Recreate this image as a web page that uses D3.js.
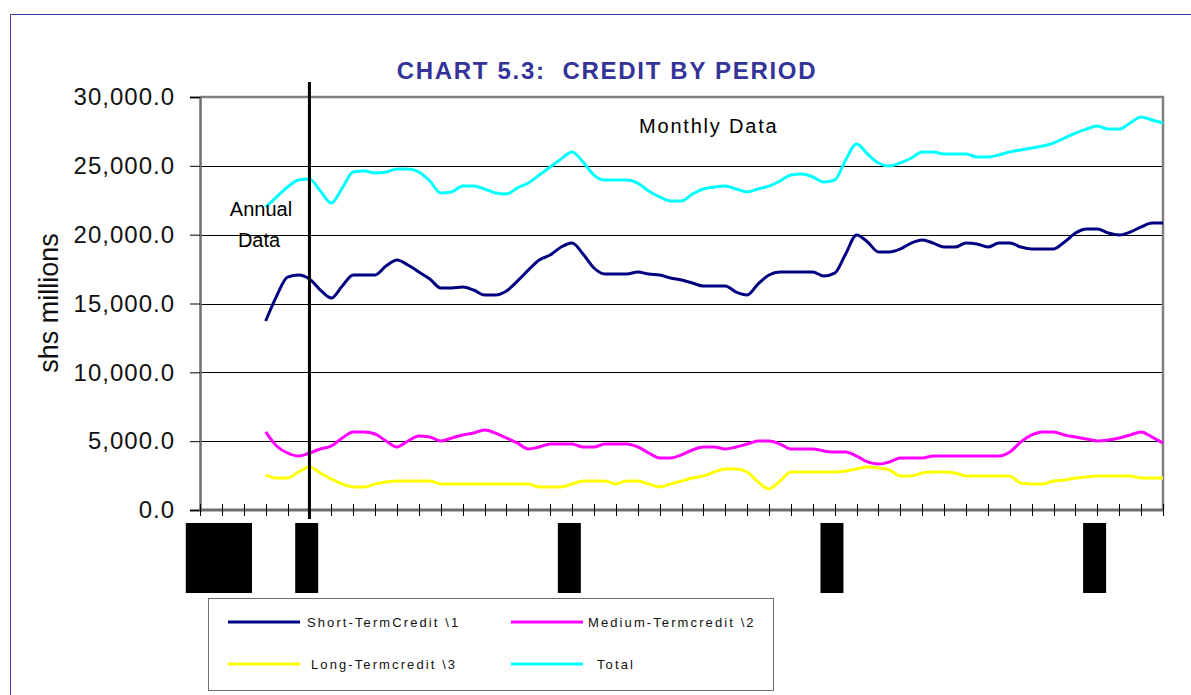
<!DOCTYPE html>
<html>
<head>
<meta charset="utf-8">
<script src="https://cdn.jsdelivr.net/npm/d3@7"></script>
<style>
  body { margin: 0; background: #fff; }
  text { font-family: "Liberation Sans", Arial, sans-serif; }
</style>
</head>
<body>
<div id="chart"></div>
<script>
// data (one value per period, starting at period index FIRST_PERIOD)
const FIRST_PERIOD = 6;
const LAST_PERIOD = 88;
const shortTerm = [
    13730, 15540, 16920, 17070, 16780, 15980, 15400, 16270, 17070, 17070,
    17070, 17720, 18160, 17800, 17290, 16780, 16130, 16130, 16200, 15980,
    15620, 15620, 15910, 16630, 17430, 18160, 18520, 19100, 19390, 18600,
    17580, 17140, 17140, 17140, 17290, 17140, 17070, 16850, 16710, 16490,
    16270, 16270, 16270, 15830, 15620, 16420, 17070, 17290, 17290, 17290,
    17290, 17000, 17210, 18600, 19980, 19470, 18740, 18740, 18960, 19390,
    19610, 19390, 19100, 19100, 19390, 19320, 19100, 19390, 19390, 19100,
    18960, 18960, 18960, 19470, 20120, 20410, 20410, 20120, 19980, 20190,
    20560, 20850, 20850
];
const mediumTerm = [
    5670, 4650, 4140, 3920, 4140, 4430, 4650, 5230, 5670, 5670,
    5520, 5010, 4580, 5010, 5380, 5300, 5010, 5230, 5450, 5590,
    5810, 5590, 5230, 4870, 4430, 4580, 4790, 4790, 4790, 4580,
    4580, 4790, 4790, 4790, 4580, 4140, 3780, 3780, 4000, 4360,
    4580, 4580, 4430, 4580, 4790, 5010, 5010, 4790, 4430, 4430,
    4430, 4290, 4210, 4210, 3920, 3490, 3340, 3490, 3780, 3780,
    3780, 3920, 3920, 3920, 3920, 3920, 3920, 3920, 4210, 4940,
    5450, 5670, 5670, 5450, 5300, 5160, 5010, 5080, 5230, 5450,
    5670, 5300, 4870
];
const longTerm = [
    2540, 2320, 2320, 2760, 3120, 2690, 2250, 1890, 1670, 1670,
    1890, 2030, 2110, 2110, 2110, 2110, 1890, 1890, 1890, 1890,
    1890, 1890, 1890, 1890, 1890, 1670, 1670, 1670, 1890, 2110,
    2110, 2110, 1890, 2110, 2110, 1890, 1670, 1890, 2110, 2320,
    2470, 2760, 2980, 2980, 2760, 2030, 1530, 2110, 2760, 2760,
    2760, 2760, 2760, 2830, 2980, 3120, 3050, 2910, 2470, 2470,
    2690, 2760, 2760, 2690, 2470, 2470, 2470, 2470, 2470, 1960,
    1890, 1890, 2110, 2180, 2320, 2400, 2470, 2470, 2470, 2470,
    2320, 2320, 2320
];
const total = [
    22000, 22740, 23460, 23970, 24040, 23170, 22300, 23390, 24550, 24620,
    24480, 24550, 24770, 24770, 24550, 23900, 23030, 23100, 23530, 23530,
    23320, 23030, 22950, 23390, 23750, 24330, 24910, 25500, 26000, 25280,
    24330, 23970, 23970, 23970, 23750, 23170, 22740, 22450, 22450, 22950,
    23320, 23460, 23530, 23320, 23100, 23320, 23530, 23900, 24330, 24410,
    24190, 23830, 23970, 25420, 26590, 25860, 25210, 24990, 25210, 25570,
    26000, 26000, 25860, 25860, 25860, 25640, 25640, 25790, 26000, 26150,
    26290, 26440, 26660, 27020, 27380, 27670, 27890, 27670, 27670, 28110,
    28550, 28330, 28110
];
const seriesNames = ["Short-TermCredit \\1", "Medium-Termcredit \\2", "Long-Termcredit \\3", "Total"];
const seriesColors = ["#000080", "#ff00ff", "#ffff00", "#00ffff"];
const yTicks = [0, 5000, 10000, 15000, 20000, 25000, 30000];
// category labels come out as solid black blocks: [from, to] in period units
const labelBlocks = [[-1.3, 4.75], [8.7, 10.8], [32.7, 34.8], [56.7, 58.8], [80.7, 82.8]];
const ANNUAL_MONTHLY_SPLIT = 10;

// layout
const WIDTH = 1191;
const HEIGHT = 695;
const PLOT_LEFT = 200;
const PLOT_RIGHT = 1163;
const PLOT_TOP = 97;
const PLOT_BOTTOM = 510;

const svg = d3.select("#chart").append("svg")
    .attr("width", WIDTH)
    .attr("height", HEIGHT);

const x = d3.scaleLinear().domain([0, LAST_PERIOD]).range([PLOT_LEFT, PLOT_RIGHT]);
const y = d3.scaleLinear().domain([0, 30000]).range([PLOT_BOTTOM, PLOT_TOP]);

// outer frame (only top and left edges are visible)
svg.append("path")
    .attr("d", "M 10.5 695 L 10.5 14.5 L 1191 14.5")
    .attr("fill", "none")
    .attr("stroke", "#3a3aa8")
    .attr("stroke-width", 1);

// title
svg.append("text")
    .attr("x", 607)
    .attr("y", 79)
    .attr("text-anchor", "middle")
    .attr("fill", "#333399")
    .style("font-size", "24px")
    .style("font-weight", "bold")
    .style("letter-spacing", "1.7px")
    .style("white-space", "pre")
    .text("CHART 5.3:  CREDIT BY PERIOD");

// gridlines
svg.append("g").selectAll("line")
    .data(yTicks.filter(d => d > 0 && d < 30000))
    .join("line")
    .attr("x1", PLOT_LEFT)
    .attr("x2", PLOT_RIGHT)
    .attr("y1", d => Math.round(y(d)) + 0.5)
    .attr("y2", d => Math.round(y(d)) + 0.5)
    .attr("stroke", "#000")
    .attr("stroke-width", 1);

// plot frame: top and right
svg.append("path")
    .attr("d", `M ${PLOT_LEFT} ${PLOT_TOP} L ${PLOT_RIGHT} ${PLOT_TOP} L ${PLOT_RIGHT} ${PLOT_BOTTOM}`)
    .attr("fill", "none")
    .attr("stroke", "#808080")
    .attr("stroke-width", 2.5);

// y axis
const yAxis = svg.append("g")
    .attr("transform", `translate(${PLOT_LEFT},0)`)
    .call(d3.axisLeft(y).tickValues(yTicks).tickFormat(d3.format(",.1f"))
        .tickSize(10).tickPadding(15));
yAxis.select(".domain").attr("stroke", "#6e6e6e").attr("stroke-width", 2.5);
yAxis.selectAll(".tick line").attr("stroke", "#000");
yAxis.selectAll(".tick text")
    .attr("fill", "#111")
    .style("font-family", "'Liberation Sans', Arial, sans-serif")
    .style("font-size", "24px")
    .style("letter-spacing", "1px");

svg.append("text")
    .attr("transform", "translate(58,303) rotate(-90)")
    .attr("text-anchor", "middle")
    .attr("fill", "#111")
    .style("font-size", "27px")
    .text("shs millions");

// x axis: ticks every second period, crossing the axis line
svg.append("line")
    .attr("x1", PLOT_LEFT - 1)
    .attr("x2", PLOT_RIGHT + 1)
    .attr("y1", PLOT_BOTTOM)
    .attr("y2", PLOT_BOTTOM)
    .attr("stroke", "#6e6e6e")
    .attr("stroke-width", 3);
svg.append("g").selectAll("line")
    .data(d3.range(0, LAST_PERIOD + 1, 2))
    .join("line")
    .attr("x1", d => Math.round(x(d)) + 0.5)
    .attr("x2", d => Math.round(x(d)) + 0.5)
    .attr("y1", PLOT_BOTTOM - 6)
    .attr("y2", PLOT_BOTTOM + 6)
    .attr("stroke", "#000")
    .attr("stroke-width", 1);

svg.append("g").selectAll("rect")
    .data(labelBlocks)
    .join("rect")
    .attr("x", d => x(d[0]))
    .attr("width", d => x(d[1]) - x(d[0]))
    .attr("y", 523)
    .attr("height", 70)
    .attr("fill", "#000");

// series lines
const allSeries = [shortTerm, mediumTerm, longTerm, total];
const line = d3.line()
    .x((d, i) => x(FIRST_PERIOD + i))
    .y(d => y(d))
    .curve(d3.curveMonotoneX);

svg.append("g").selectAll("path")
    .data(allSeries)
    .join("path")
    .attr("d", line)
    .attr("fill", "none")
    .attr("stroke", (d, i) => seriesColors[i])
    .attr("stroke-width", 3)
    .attr("stroke-linejoin", "round");

// annual / monthly divider and notes
svg.append("line")
    .attr("x1", x(ANNUAL_MONTHLY_SPLIT))
    .attr("x2", x(ANNUAL_MONTHLY_SPLIT))
    .attr("y1", 82)
    .attr("y2", 519)
    .attr("stroke", "#000")
    .attr("stroke-width", 3);

svg.append("text")
    .attr("x", 261).attr("y", 216)
    .attr("text-anchor", "middle")
    .style("font-size", "20px")
    .text("Annual");
svg.append("text")
    .attr("x", 259).attr("y", 247)
    .attr("text-anchor", "middle")
    .style("font-size", "20px")
    .text("Data");
svg.append("text")
    .attr("x", 639).attr("y", 133)
    .style("font-size", "20px")
    .style("letter-spacing", "1.8px")
    .text("Monthly Data");

// legend
const legend = svg.append("g");
legend.append("rect")
    .attr("x", 208.5).attr("y", 598.5)
    .attr("width", 565).attr("height", 92)
    .attr("fill", "#fff")
    .attr("stroke", "#6e6e6e")
    .attr("stroke-width", 1);

const legendPos = [
    {lx: 228, tx: 307, y: 622},
    {lx: 511, tx: 588, y: 622},
    {lx: 228, tx: 311, y: 664},
    {lx: 511, tx: 597, y: 664},
];
const item = legend.selectAll(".item")
    .data(seriesNames)
    .join("g")
    .attr("class", "item");
item.append("line")
    .attr("x1", (d, i) => legendPos[i].lx)
    .attr("x2", (d, i) => legendPos[i].lx + 72)
    .attr("y1", (d, i) => legendPos[i].y)
    .attr("y2", (d, i) => legendPos[i].y)
    .attr("stroke", (d, i) => seriesColors[i])
    .attr("stroke-width", 3);
item.append("text")
    .attr("x", (d, i) => legendPos[i].tx)
    .attr("y", (d, i) => legendPos[i].y + 5)
    .style("font-size", "13px")
    .style("letter-spacing", "2.1px")
    .attr("fill", "#111")
    .text(d => d);
</script>
</body>
</html>
